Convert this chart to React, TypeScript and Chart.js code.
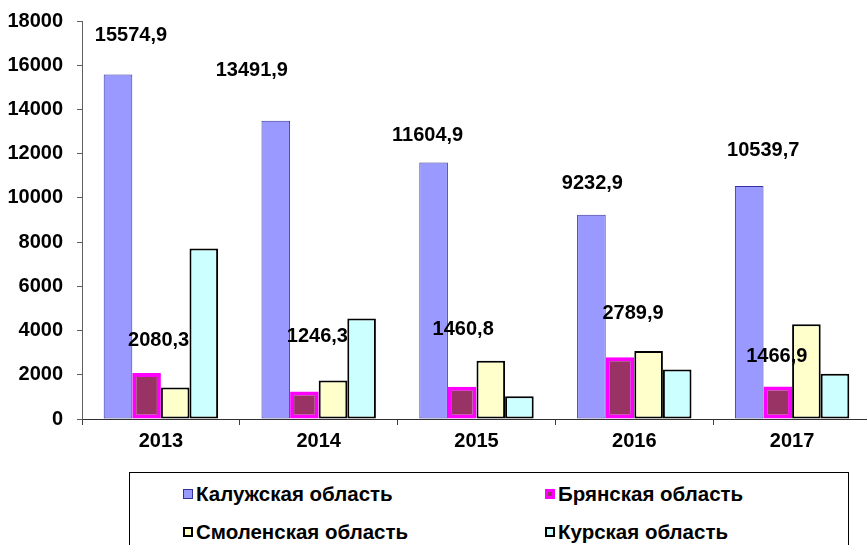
import React, { useEffect, useRef } from "react";
import { Chart, registerables } from "chart.js";

Chart.register(...registerables);

const years = ["2013", "2014", "2015", "2016", "2017"];
const kaluga = [15574.9, 13491.9, 11604.9, 9232.9, 10539.7];
const bryansk = [2080.3, 1246.3, 1460.8, 2789.9, 1466.9];
const smolensk = [1430, 1740, 2630, 3080, 4290];
const kursk = [7710, 4540, 1025, 2240, 2050];
const yTicks = [0, 2000, 4000, 6000, 8000, 10000, 12000, 14000, 16000, 18000];

const seriesNames = ["Калужская область", "Брянская область", "Смоленская область", "Курская область"];

// label nudges (dx, dy) relative to top-centre of bar
const kalugaNudge = [[13, -39], [-24, -50], [-6, -27], [1, -31], [14, -35]];
const bryanskNudge = [[12, -33], [13, -55], [1, -57], [13, -44], [-1, -30]];

const FONT = "'Liberation Sans', Arial, sans-serif";

const labelPlugin = {
  id: "valueLabels",
  afterDatasetsDraw(chart: any) {
    const ctx = chart.ctx;
    ctx.save();
    ctx.font = `bold 20px ${FONT}`;
    ctx.fillStyle = "#000";
    ctx.textAlign = "center";
    ctx.textBaseline = "middle";
    const draw = (dsIndex: number, nudges: number[][]) => {
      const meta = chart.getDatasetMeta(dsIndex);
      const data = chart.data.datasets[dsIndex].data as number[];
      meta.data.forEach((bar: any, i: number) => {
        const txt = data[i].toFixed(1).replace(".", ",");
        ctx.fillText(txt, bar.x + nudges[i][0], bar.y + nudges[i][1]);
      });
    };
    draw(0, kalugaNudge);
    draw(1, bryanskNudge);
    ctx.restore();
  },
};

const markers = [
  { bg: "#9999FF", border: "1px solid #333399" },
  { bg: "#993366", border: "3px solid #FF00FF" },
  { bg: "#FFFFCC", border: "2px solid #000" },
  { bg: "#CCFFFF", border: "2px solid #000" },
];
const legendPos = [
  { left: 53, top: 9 },
  { left: 415, top: 9 },
  { left: 53, top: 47 },
  { left: 415, top: 47 },
];

export default function App() {
  const ref = useRef<HTMLCanvasElement>(null);
  useEffect(() => {
    if (!ref.current) return;
    const chart = new Chart(ref.current, {
      type: "bar",
      data: {
        labels: years,
        datasets: [
          {
            label: seriesNames[0],
            data: kaluga,
            backgroundColor: "#9999FF",
            borderColor: "#3333A0",
            borderWidth: 1,
            borderSkipped: false,
          },
          {
            label: seriesNames[1],
            data: bryansk,
            backgroundColor: "#993366",
            borderColor: "#FF00FF",
            borderWidth: 4,
            borderSkipped: false,
          },
          {
            label: seriesNames[2],
            data: smolensk,
            backgroundColor: "#FFFFCC",
            borderColor: "#000000",
            borderWidth: 2,
            borderSkipped: false,
          },
          {
            label: seriesNames[3],
            data: kursk,
            backgroundColor: "#CCFFFF",
            borderColor: "#000000",
            borderWidth: 2,
            borderSkipped: false,
          },
        ],
      },
      options: {
        animation: false,
        responsive: false,
        maintainAspectRatio: false,
        devicePixelRatio: 1,
        layout: { padding: { top: 21, right: 4, left: 0, bottom: 0 } },
        datasets: { bar: { categoryPercentage: 0.725, barPercentage: 1 } },
        plugins: { legend: { display: false }, tooltip: { enabled: false } },
        scales: {
          x: {
            grid: {
              offset: true,
              drawOnChartArea: false,
              drawTicks: true,
              tickLength: 6,
              color: "#404040",
            },
            border: { display: true, color: "#303030", width: 1 },
            ticks: {
              color: "#000",
              font: { family: FONT, size: 20, weight: "bold" },
              padding: 4,
            },
            afterFit: (s: any) => {
              s.height = 126;
              s.paddingLeft = 0;
              s.paddingRight = 0;
            },
          },
          y: {
            min: 0,
            max: 18000,
            afterBuildTicks: (s: any) => {
              s.ticks = yTicks.map((v) => ({ value: v }));
            },
            grid: {
              drawOnChartArea: false,
              drawTicks: true,
              tickLength: 5,
              color: "#606060",
            },
            border: { display: true, color: "#606060", width: 1 },
            ticks: {
              color: "#000",
              font: { family: FONT, size: 20, weight: "bold" },
              padding: 14,
              callback: (v: any) => String(v),
            },
            afterFit: (s: any) => {
              s.width = 82;
              s.paddingTop = 0;
              s.paddingBottom = 0;
            },
          },
        },
      },
      plugins: [labelPlugin],
    });
    return () => chart.destroy();
  }, []);

  return (
    <div
      style={{
        position: "fixed",
        left: 0,
        top: 0,
        width: 867,
        height: 545,
        overflow: "hidden",
        background: "#fff",
      }}
    >
      <canvas ref={ref} width={875} height={545} style={{ display: "block" }} />
      <div
        style={{
          position: "absolute",
          left: 129,
          top: 472,
          width: 718,
          height: 90,
          border: "1px solid #000",
          background: "#fff",
          fontFamily: FONT,
          fontWeight: "bold",
          fontSize: 20.5,
          color: "#000",
        }}
      >
        {seriesNames.map((name, i) => (
          <div
            key={name}
            style={{
              position: "absolute",
              left: legendPos[i].left,
              top: legendPos[i].top,
              display: "flex",
              alignItems: "center",
              whiteSpace: "nowrap",
              lineHeight: "24px",
            }}
          >
            <span
              style={{
                display: "inline-block",
                boxSizing: "border-box",
                width: 10,
                height: 10,
                background: markers[i].bg,
                border: markers[i].border,
                marginRight: 3,
              }}
            />
            <span>{name}</span>
          </div>
        ))}
      </div>
    </div>
  );
}
